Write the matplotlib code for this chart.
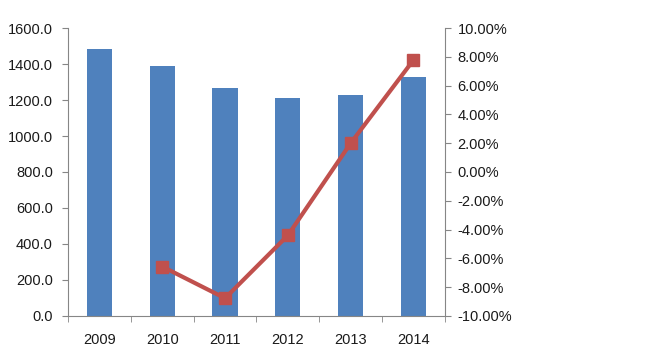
import numpy as np
import matplotlib
matplotlib.use("Agg")
import matplotlib.pyplot as plt
from matplotlib.ticker import FuncFormatter, FixedLocator

plt.rcParams['font.family'] = ['Liberation Sans', 'DejaVu Sans']
plt.rcParams['axes.unicode_minus'] = False

years = ['2009', '2010', '2011', '2012', '2013', '2014']
volume = [1483, 1389, 1267, 1211, 1230, 1330]
growth_years = ['2010', '2011', '2012', '2013', '2014']
growth = [-6.57, -8.77, -4.4, 2.0, 7.78]

fig = plt.figure(figsize=(6.67, 3.55), dpi=100)
ax = fig.add_axes([0.102, 0.11, 0.565, 0.811])
x = np.arange(len(years))
ax.bar(x, volume, width=0.4, color='#4F81BD', zorder=2)
ax.set_xlim(-0.5, len(years) - 0.5)
ax.set_ylim(0, 1600)
ax.set_yticks(np.arange(0, 1601, 200))
ax.yaxis.set_major_formatter(FuncFormatter(lambda v, p: f'{v:.1f}'))
ax.set_xticks(x)
ax.set_xticklabels(years)
ax.xaxis.set_minor_locator(FixedLocator(np.arange(-0.5, len(years), 1)))
ax.tick_params(axis='x', which='major', length=0, pad=12)
ax.tick_params(axis='x', which='minor', length=4, color='#868686')
ax.tick_params(axis='y', length=4, color='#868686', pad=7)
ax.tick_params(labelsize=10.5, labelcolor='#1a1a1a')
for s in ['top', 'right']:
    ax.spines[s].set_visible(False)
for s in ['left', 'bottom']:
    ax.spines[s].set_color('#868686')

ax2 = ax.twinx()
gx = [years.index(y) for y in growth_years]
ax2.plot(gx, growth, color='#C0504D', lw=3, marker='s', ms=9, zorder=3)
ax2.set_ylim(-10, 10)
ax2.set_yticks(np.arange(-10, 10.1, 2))
ax2.yaxis.set_major_formatter(FuncFormatter(lambda v, p: f'{v:.2f}%'))
ax2.tick_params(axis='y', length=4, color='#868686', labelsize=10.5, labelcolor='#1a1a1a', pad=5)
for s in ['top', 'left', 'bottom']:
    ax2.spines[s].set_visible(False)
ax2.spines['right'].set_color('#868686')

fig.savefig('out.png', dpi=100)
